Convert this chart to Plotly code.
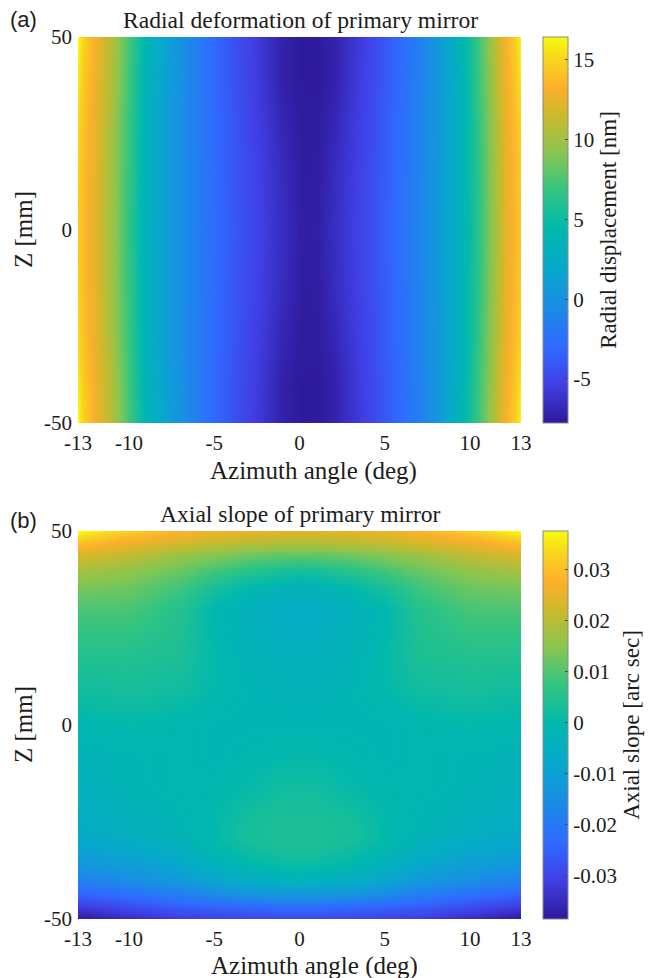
import plotly.graph_objects as go

W, H = 649, 978

parula = [[0.0, "#2E1A9A"], [0.1, "#4040E6"], [0.2, "#2F6BFF"], [0.3, "#1A8CE6"], [0.4, "#08A8CC"],
          [0.5, "#00B8AE"], [0.6, "#30C483"], [0.7, "#88C650"], [0.8, "#CFB82A"], [0.87, "#FDB02C"],
          [0.94, "#F8D41E"], [1.0, "#F9FB0E"]]

azimuth_a = [-13, -12.7, -12, -11, -10, -9, -8, -7, -6, -5, -4, -3, -2, -1, 0, 1, 2, 3, 4, 5, 6, 7, 8, 9, 10, 11, 12, 12.7, 13]
z_a = [-50, -40, -30, -15, 0, 15, 30, 40, 50]
radial_m50 = [16.4, 15.0, 13.0, 10.6, 7.3, 3.9, 1.7, 0.1, -1.6, -3.0, -4.2, -5.2, -6.2, -7.2, -7.7, -7.7, -7.2, -6.2, -5.2, -4.0, -2.8, -1.4, 0.4, 2.6, 5.4, 9.0, 12.8, 15.0, 16.4]
radial_m40 = [15.8, 14.6, 12.8, 10.4, 7.1, 3.7, 1.6, 0.0, -1.6, -3.0, -4.1, -5.1, -6.1, -7.3, -7.7, -7.7, -7.3, -6.1, -5.1, -3.9, -2.7, -1.3, 0.4, 2.5, 5.2, 8.8, 12.6, 14.6, 15.8]
radial_m30 = [15.2, 14.2, 12.6, 10.1, 6.9, 3.5, 1.5, -0.1, -1.6, -2.9, -4.0, -5.0, -5.9, -7.0, -7.6, -7.6, -7.0, -5.9, -5.0, -3.8, -2.6, -1.2, 0.4, 2.4, 5.0, 8.6, 12.3, 14.2, 15.2]
radial_m15 = [14.8, 13.9, 12.4, 9.9, 6.7, 3.4, 1.4, -0.1, -1.5, -2.8, -3.9, -4.8, -5.7, -6.6, -7.5, -7.5, -6.6, -5.7, -4.8, -3.7, -2.5, -1.1, 0.5, 2.4, 4.9, 8.4, 12.1, 13.9, 14.8]
radial_0 = [14.6, 13.8, 12.3, 9.8, 6.6, 3.3, 1.4, -0.1, -1.5, -2.7, -3.8, -4.7, -5.6, -6.5, -7.4, -7.4, -6.5, -5.6, -4.7, -3.6, -2.4, -1.0, 0.5, 2.4, 4.8, 8.3, 12.0, 13.8, 14.6]
radial_15 = [14.8, 13.9, 12.4, 9.9, 6.7, 3.4, 1.4, -0.1, -1.5, -2.8, -3.9, -4.8, -5.7, -6.6, -7.5, -7.5, -6.6, -5.7, -4.8, -3.7, -2.5, -1.1, 0.5, 2.4, 4.9, 8.4, 12.1, 13.9, 14.8]
radial_30 = [15.2, 14.2, 12.6, 10.1, 6.9, 3.5, 1.5, -0.1, -1.6, -2.9, -4.0, -5.0, -5.9, -7.0, -7.6, -7.6, -7.0, -5.9, -5.0, -3.8, -2.6, -1.2, 0.4, 2.4, 5.0, 8.6, 12.3, 14.2, 15.2]
radial_40 = [15.8, 14.6, 12.8, 10.4, 7.1, 3.7, 1.6, 0.0, -1.6, -3.0, -4.1, -5.1, -6.1, -7.3, -7.7, -7.7, -7.3, -6.1, -5.1, -3.9, -2.7, -1.3, 0.4, 2.5, 5.2, 8.8, 12.6, 14.6, 15.8]
radial_50 = [16.4, 15.0, 13.0, 10.6, 7.3, 3.9, 1.7, 0.1, -1.6, -3.0, -4.2, -5.2, -6.2, -7.2, -7.7, -7.7, -7.2, -6.2, -5.2, -4.0, -2.8, -1.4, 0.4, 2.6, 5.4, 9.0, 12.8, 15.0, 16.4]

azimuth_b = [-13, -10, -7, -5, -3, -1, 0, 1, 3, 5, 7, 10, 13]
z_b = [-50, -47, -44, -40, -35, -30, -25, -15, -8, 0, 9, 18, 29, 35, 40, 44, 47, 50]
slope_m50 = [-.0385, -.035, -.032, -.031, -.030, -.030, -.030, -.030, -.030, -.031, -.032, -.035, -.0385]
slope_m47 = [-.032, -.029, -.026, -.025, -.024, -.023, -.023, -.023, -.024, -.025, -.026, -.029, -.032]
slope_m44 = [-.026, -.023, -.020, -.017, -.015, -.014, -.014, -.014, -.015, -.017, -.020, -.023, -.026]
slope_m40 = [-.018, -.015, -.012, -.008, -.005, -.004, -.003, -.004, -.005, -.008, -.012, -.015, -.018]
slope_m35 = [-.012, -.010, -.007, -.003, .000, .002, .002, .002, .000, -.003, -.007, -.010, -.012]
slope_m30 = [-.008, -.006, -.003, .000, .003, .004, .004, .004, .003, .000, -.003, -.006, -.008]
slope_m25 = [-.006, -.004, -.002, .000, .003, .004, .004, .004, .003, .000, -.002, -.004, -.006]
slope_m15 = [-.004, -.002, -.001, -.001, .000, .002, .002, .002, .000, -.001, -.001, -.002, -.004]
slope_m8 = [-.003, -.002, -.001, -.002, -.001, .000, .000, .000, -.001, -.002, -.001, -.002, -.003]
slope_0 = [-.001, .000, -.001, -.002, -.002, -.002, -.002, -.002, -.002, -.002, -.001, .000, -.001]
slope_9 = [.002, .003, .002, .000, -.002, -.003, -.003, -.003, -.002, .000, .002, .003, .002]
slope_18 = [.005, .005, .004, .000, -.003, -.004, -.004, -.004, -.003, .000, .004, .005, .005]
slope_29 = [.009, .009, .005, -.001, -.004, -.006, -.006, -.006, -.004, -.001, .005, .009, .009]
slope_35 = [.013, .012, .008, .003, -.001, -.003, -.004, -.003, -.001, .003, .008, .012, .013]
slope_40 = [.018, .016, .012, .009, .006, .004, .003, .004, .006, .009, .012, .016, .018]
slope_44 = [.024, .021, .017, .015, .013, .012, .012, .012, .013, .015, .017, .021, .024]
slope_47 = [.030, .026, .023, .021, .020, .019, .019, .019, .020, .021, .023, .026, .030]
slope_50 = [.0375, .032, .028, .026, .025, .024, .024, .024, .025, .026, .028, .032, .0375]

x_ticks = [-13, -10, -5, 0, 5, 10, 13]
y_ticks = [-50, 0, 50]
cb_a_ticks = [-5, 0, 5, 10, 15]
cb_b_ticks = [-0.03, -0.02, -0.01, 0, 0.01, 0.02, 0.03]
cb_b_text = ["-0.03", "-0.02", "-0.01", "0", "0.01", "0.02", "0.03"]

SERIF = "Liberation Serif"
INK = "#1c1c1c"
X0, X1 = 78 / W, 521 / W
CB_X = 543 / W
A_TOP, A_BOT = 1 - 37 / H, 1 - 423 / H
B_TOP, B_BOT = 1 - 531 / H, 1 - 919 / H


def colorbar(top, bot, title, tickvals, ticktext):
    return dict(
        x=CB_X, xanchor="left", xpad=0, y=bot, yanchor="bottom", ypad=0,
        len=top - bot, lenmode="fraction", thickness=25, thicknessmode="pixels",
        outlinecolor="#8a8a8a", outlinewidth=1, ticks="inside", ticklen=3, tickcolor="#444",
        ticklabelposition="outside", tickvals=tickvals, ticktext=ticktext,
        tickfont=dict(family=SERIF, size=21, color=INK),
        title=dict(text=title, side="right", font=dict(family=SERIF, size=23, color=INK)),
    )


fig = go.Figure()
fig.add_trace(go.Heatmap(
    x=azimuth_a, y=z_a, zsmooth="best", colorscale=parula, zmin=-7.76, zmax=16.44,
    z=[radial_m50, radial_m40, radial_m30, radial_m15, radial_0, radial_15, radial_30, radial_40, radial_50],
    colorbar=colorbar(A_TOP, A_BOT, "Radial displacement [nm]", cb_a_ticks, [str(v) for v in cb_a_ticks]),
    xaxis="x", yaxis="y",
))
fig.add_trace(go.Heatmap(
    x=azimuth_b, y=z_b, zsmooth="best", colorscale=parula, zmin=-0.0385, zmax=0.0375,
    z=[slope_m50, slope_m47, slope_m44, slope_m40, slope_m35, slope_m30, slope_m25, slope_m15, slope_m8,
       slope_0, slope_9, slope_18, slope_29, slope_35, slope_40, slope_44, slope_47, slope_50],
    colorbar=colorbar(B_TOP, B_BOT, "Axial slope [arc sec]", cb_b_ticks, cb_b_text),
    xaxis="x2", yaxis="y2",
))


def xaxis(anchor):
    return dict(
        domain=[X0, X1], anchor=anchor, range=[-13, 13], tickmode="array", tickvals=x_ticks,
        ticktext=[str(v) for v in x_ticks], ticks="", showgrid=False, zeroline=False, showline=False,
        ticklabelstandoff=5, tickfont=dict(family=SERIF, size=21, color=INK),
    )


def yaxis(anchor, top, bot):
    return dict(
        domain=[bot, top], anchor=anchor, range=[-50, 50], tickmode="array", tickvals=y_ticks,
        ticktext=[str(v) for v in y_ticks], ticks="", showgrid=False, zeroline=False, showline=False,
        ticklabelstandoff=5, tickfont=dict(family=SERIF, size=21, color=INK),
    )


def label(text, px, py, font, size, angle=0):
    return dict(text=text, x=px / W, y=1 - py / H, xref="paper", yref="paper", xanchor="center",
                yanchor="middle", showarrow=False, textangle=angle, font=dict(family=font, size=size, color=INK))


fig.update_layout(
    width=W, height=H, autosize=False, margin=dict(l=0, r=0, t=0, b=0, autoexpand=False),
    paper_bgcolor="white", plot_bgcolor="white", showlegend=False,
    xaxis=xaxis("y"), yaxis=yaxis("x", A_TOP, A_BOT),
    xaxis2=xaxis("y2"), yaxis2=yaxis("x2", B_TOP, B_BOT),
    annotations=[
        label("(a)", 23, 20, "Liberation Sans", 22),
        label("(b)", 23, 520, "Liberation Sans", 22),
        label("Radial deformation of primary mirror", 300, 20, SERIF, 23.6),
        label("Axial slope of primary mirror", 300, 514, SERIF, 23.6),
        label("Azimuth angle (deg)", 313, 471, SERIF, 25),
        label("Azimuth angle (deg)", 314, 966, SERIF, 25),
        label("Z [mm]", 23, 230, SERIF, 25, -90),
        label("Z [mm]", 23, 725, SERIF, 25, -90),
    ],
)

fig.write_html("out.html", config={"displayModeBar": False},
               post_script="document.body.style.margin='0';document.documentElement.style.overflow='hidden';")
